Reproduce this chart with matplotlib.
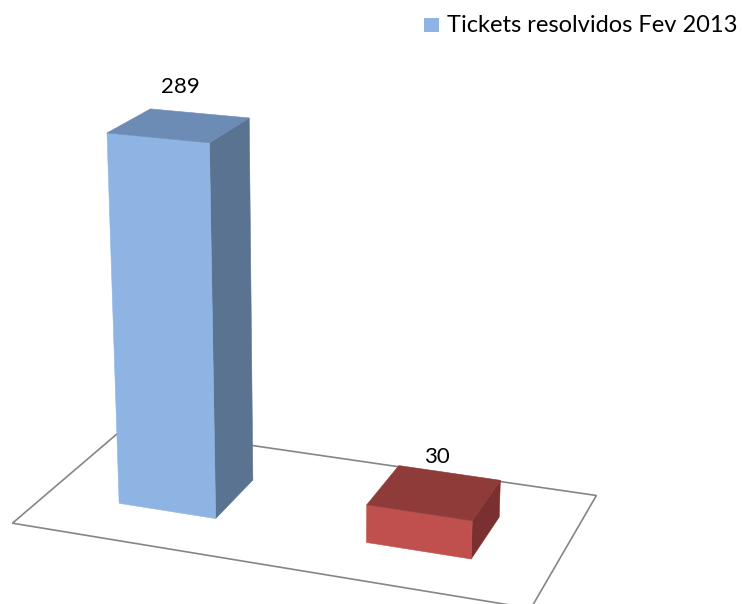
import numpy as np
import matplotlib
matplotlib.use("Agg")
import matplotlib.pyplot as plt
from matplotlib.patches import Polygon, Rectangle

plt.rcParams['font.family'] = ['Lato', 'DejaVu Sans']

# data
series_name = "Tickets resolvidos Fev 2013"
values = [289, 30]
front_colors = ["#8DB4E2", "#C0504D"]
top_colors = ["#6C8BB5", "#8E3B39"]
side_colors = ["#5A7391", "#7A302E"]

# 3d layout: floor spans x 0..2, y 0..1; one unit per category
bar_w = 0.40
bar_d = 0.38
bar_y = 0.49
z_per_unit = 0.005057

# camera (look-at with perspective), output in pixels
cam_target = np.array([1.4459, -0.6705, 1.2665])
cam_az, cam_el, cam_dist = 0.3513, 0.3355, 6.4931
focal, cx, cy = 2125.9, 312.86, 303.31


def project(pts):
    pts = np.atleast_2d(np.asarray(pts, dtype=float))
    d = np.array([np.cos(cam_el) * np.sin(cam_az),
                  -np.cos(cam_el) * np.cos(cam_az),
                  np.sin(cam_el)])
    eye = cam_target + cam_dist * d
    fw = -d
    right = np.cross(fw, [0, 0, 1.0])
    right /= np.linalg.norm(right)
    up = np.cross(right, fw)
    q = pts - eye
    zc = q @ fw
    return np.stack([cx + focal * (q @ right) / zc,
                     cy - focal * (q @ up) / zc], axis=-1)


fig = plt.figure(figsize=(7.42, 6.04), dpi=100)
ax = fig.add_axes([0, 0, 1, 1])
ax.set_xlim(0, 742)
ax.set_ylim(604, 0)
ax.axis("off")

# floor outline
floor = project([(0, 0, 0), (2, 0, 0), (2, 1, 0), (0, 1, 0)])
ax.add_patch(Polygon(floor, closed=True, fill=False, edgecolor="#868686",
                     linewidth=1.2, zorder=1))

for i, v in enumerate(values):
    x0 = i + 0.5 - bar_w / 2
    x1 = i + 0.5 + bar_w / 2
    y0 = bar_y - bar_d / 2
    y1 = bar_y + bar_d / 2
    h = v * z_per_unit
    front = project([(x0, y0, 0), (x1, y0, 0), (x1, y0, h), (x0, y0, h)])
    side = project([(x1, y0, 0), (x1, y1, 0), (x1, y1, h), (x1, y0, h)])
    top = project([(x0, y0, h), (x1, y0, h), (x1, y1, h), (x0, y1, h)])
    for poly, col in ((side, side_colors[i]), (front, front_colors[i]), (top, top_colors[i])):
        ax.add_patch(Polygon(poly, closed=True, facecolor=col, edgecolor=col,
                             linewidth=0.4, zorder=2 + i))
    lx, ly = project([(i + 0.5, bar_y, h + 0.15)])[0]
    ax.text(lx + 2, ly + 2, str(v), ha="center", va="center", fontsize=16,
            color="#000000", zorder=5)

# legend
ax.add_patch(Rectangle((424, 18), 15, 14, facecolor=front_colors[0],
                       edgecolor="none", zorder=5))
ax.text(447, 32, series_name, ha="left", va="baseline", fontsize=17,
        color="#000000", zorder=5)

fig.savefig("out.png")
